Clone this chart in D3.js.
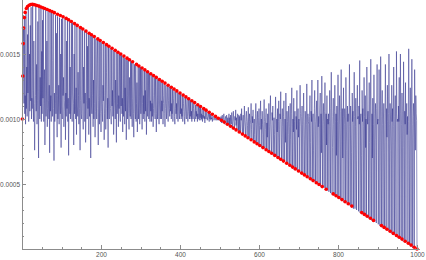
<!DOCTYPE html>
<html>
<head>
<meta charset="utf-8">
<script src="https://cdn.jsdelivr.net/npm/d3@7"></script>
<style>
  body { margin: 0; background: #fff; }
  .axis path, .axis line { stroke: #8c8c8c; shape-rendering: crispEdges; }
  .axis text { fill: #555; font-family: "Liberation Sans", sans-serif; font-size: 6.5px; }
</style>
</head>
<body>
<script>
// red points: position n and value
var redN = [1,2,3,4,6,8,11,14,18,22,26,30,34,38,43,48,53,58,64,70,76,82,90,97,104,112,118,
  125,133,140,148,154,162,170,176,183,192,198,206,214,220,228,236,243,250,258,266,272,280,290,
  296,304,311,318,326,333,340,348,355,362,370,378,385,392,400,408,415,422,430,437,445,452,460,
  466,474,482,490,497,505,512,520,528,535,542,550,558,565,572,580,588,595,602,610,618,625,632,
  640,648,655,662,670,678,685,692,700,708,715,722,730,737,745,752,760,770,788,795,802,810,818,
  826,835,860,867,874,882,890,910,917,924,932,940,948,955,962,970,978,985,993,1000];
var redValues = [0.00100,0.00133,0.00158,0.00170,0.00178,0.00182,0.00185,0.001865,0.001875,0.00188,
  0.001882,0.00188,0.001877,0.001873,0.001868,0.001862,0.001856,0.00185,0.001842,0.001834,0.001826,
  0.001818,0.001806,0.001796,0.001786,0.001774,0.001764,
  0.00175,0.001734,0.00172,0.001704,0.001692,0.001676,0.00166,0.001648,0.001634,0.001616,0.001604,
  0.001588,0.001572,0.00156,0.001544,0.001528,0.001514,0.0015,0.001484,0.001468,0.001456,0.00144,
  0.00142,0.001408,0.001392,0.001378,0.001364,0.001348,0.001334,0.00132,0.001304,0.00129,0.001276,
  0.00126,0.001244,0.00123,0.001216,0.0012,0.001184,0.00117,0.001156,0.00114,0.001126,0.00111,
  0.001096,0.00108,0.001068,0.001052,0.001036,0.00102,0.001006,0.00099,0.000976,0.00096,0.000944,
  0.00093,0.000916,0.0009,0.000884,0.00087,0.000856,0.00084,0.000824,0.00081,0.000796,0.00078,
  0.000764,0.00075,0.000736,0.00072,0.000704,0.00069,0.000676,0.00066,0.000644,0.00063,0.000616,
  0.0006,0.000584,0.00057,0.000556,0.00054,0.000526,0.00051,0.000496,0.00048,0.00046,0.000424,
  0.00041,0.000396,0.00038,0.000364,0.000348,0.00033,0.00028,0.000266,0.000252,0.000236,0.00022,
  0.00018,0.000166,0.000152,0.000136,0.00012,0.000104,0.00009,0.000076,0.00006,0.000044,0.00003,
  0.000014,0.0];

// blue series, one value per n = 1 ... 1000, in units of 1e-5
var blueUnit = 1e-5;
var blueValues = [
  100,133,158,170,112,178,104,118,96,182,108,140,102,165,120,186,98,110,150,106,172,114,186,100,116,
  108,188,122,98,160,112,76,104,118,187,106,142,96,114,175,102,70,187,120,100,132,110,186,98,152,
  104,176,116,185,98,112,138,80,110,184,102,120,160,94,108,184,114,100,126,74,183,106,118,98,182,
  116,102,145,181,108,68,120,98,112,180,104,166,118,86,179,100,110,126,96,178,114,104,150,78,177,
  110,100,179,118,132,94,106,114,178,84,120,102,160,108,177,98,116,72,112,177,104,140,100,118,175,
  106,98,174,120,112,80,150,104,173,116,100,124,88,172,110,102,136,118,96,171,108,76,114,170,104,
  100,118,169,106,92,140,112,168,98,120,82,104,167,114,100,156,108,166,88,116,102,165,120,70,165,
  110,104,164,118,94,130,100,163,112,86,106,162,120,100,146,161,108,80,114,161,96,118,160,104,90,
  106,159,112,98,126,114,158,84,104,118,157,92,108,136,156,100,116,78,156,110,100,120,155,108,102,
  96,154,110,122,102,153,88,106,114,152,100,130,108,82,151,104,112,151,94,118,108,150,102,98,150,
  110,149,104,116,90,148,102,112,147,96,124,106,146,84,110,146,100,118,145,104,92,132,108,102,145,
  100,144,110,94,116,143,104,86,120,142,106,100,141,98,112,128,90,104,141,100,114,140,96,108,140,
  104,139,110,92,112,138,100,118,104,137,98,122,106,137,88,110,136,102,112,136,100,106,135,98,114,
  106,134,98,112,102,133,94,108,118,132,104,100,131,110,90,104,131,100,114,130,102,96,110,130,100,
  110,129,100,114,106,128,96,112,118,127,104,94,108,126,112,100,120,126,104,98,114,125,108,102,125,
  106,124,100,112,104,123,98,110,116,122,102,96,108,121,104,112,100,121,106,98,110,120,104,100,120,
  104,119,100,108,102,118,98,106,112,117,102,96,106,116,104,100,110,116,102,98,106,115,104,100,115,
  102,114,100,106,98,113,104,100,108,112,102,98,104,111,100,106,102,111,98,104,100,110,102,99,110,
  101,109,99,104,100,108,98,103,101,107,100,102,97,106,101,100,103,106,99,101,102,105,100,98,105,
  100,104,99,101,100,103,98,101,102,102,99,100,101,101,100,99,101,100,99,101,100,100,99,100,100,
  99,101,98,102,97,100,103,99,97,101,104,98,96,100,102,99,96,103,100,97,101,95,99,104,95,
  101,94,103,99,96,105,100,93,98,106,100,97,92,102,99,107,95,101,92,98,104,100,91,103,90,
  102,96,89,104,99,108,94,89,100,103,88,97,110,99,94,87,102,106,98,87,95,101,109,86,98,
  104,85,96,100,112,92,84,102,97,107,83,94,100,88,82,104,112,96,81,99,106,90,80,101,108,
  95,79,102,114,92,100,78,106,96,88,77,103,115,98,77,92,101,108,76,97,86,104,75,100,112,
  94,74,102,118,96,84,73,105,99,110,72,93,101,88,72,104,117,96,71,100,90,108,70,98,114,
  92,69,104,100,121,86,68,98,108,94,67,102,114,90,67,100,82,120,96,66,106,98,65,88,110,
  100,64,94,112,84,63,104,124,96,62,100,90,116,61,98,106,80,61,102,92,122,60,96,108,86,
  100,59,98,126,104,94,58,102,110,96,57,104,120,98,57,84,106,100,56,96,127,102,55,104,98,
  96,54,102,118,82,53,106,98,130,52,100,104,76,52,108,122,98,51,96,104,114,50,100,130,94,
  102,49,96,110,120,48,104,74,133,100,47,98,112,96,47,106,128,100,46,104,80,118,45,100,96,
  104,44,98,122,94,43,108,136,100,42,78,102,116,96,41,106,126,98,41,104,72,110,40,98,134,
  100,39,96,118,84,38,106,138,100,37,108,70,102,124,36,96,108,100,36,132,104,76,35,110,98,
  104,34,98,142,94,33,110,100,74,32,120,98,106,31,96,136,102,31,94,116,68,30,108,126,100,
  102,29,110,96,145,28,100,104,72,27,122,98,108,26,94,132,102,26,118,78,100,25,140,104,96,
  106,24,98,128,82,23,110,146,100,22,104,70,116,21,96,134,104,21,84,112,100,20,108,142,96,
  100,19,98,138,110,18,80,148,102,17,106,122,96,16,100,112,74,16,104,142,96,15,108,86,126,
  98,14,104,150,96,13,112,100,76,12,126,98,108,11,94,140,102,11,96,118,70,10,152,104,98,
  100,9,110,98,132,8,84,150,104,7,96,120,106,6,78,144,100,6,106,96,128,5,102,112,88,
  102,4,98,154,106,3,80,124,100,2,110,146,96,1,86,112,102,1,138,98,76,118,104,99,0
];

var xTicks = [200, 400, 600, 800, 1000];
var xTickLabels = ["200", "400", "600", "800", "1000"];
var yTicks = [0.0005, 0.0010, 0.0015];
var yTickLabels = ["0.0005", "0.0010", "0.0015"];

var width = 426, height = 260;

var svg = d3.select("body").append("svg")
    .attr("width", width)
    .attr("height", height);

var x = d3.scaleLinear().domain([0, 1000]).range([22, 417]);
var y = d3.scaleLinear().domain([0, 0.001]).range([249, 119]);

// blue line
var blueData = blueValues.map(function(v, i) { return { n: i + 1, v: v * blueUnit }; });

svg.append("path")
    .datum(blueData)
    .attr("fill", "none")
    .attr("stroke", "#33338e")
    .attr("stroke-width", 0.6)
    .attr("stroke-opacity", 0.9)
    .attr("d", d3.line().x(function(d) { return x(d.n); }).y(function(d) { return y(d.v); }));

// red points
svg.append("g")
    .selectAll("circle")
    .data(redN)
    .enter().append("circle")
    .attr("cx", function(d) { return x(d); })
    .attr("cy", function(d, i) { return y(redValues[i]); })
    .attr("r", 1.8)
    .attr("fill", "#ff0000");

// x axis, ticks pointing up
svg.append("g").attr("class", "axis")
    .attr("transform", "translate(0," + y(0) + ")")
    .call(d3.axisBottom(x).tickValues(d3.range(50, 1001, 50)).tickSize(-2).tickFormat(""))
    .select(".domain").remove();
svg.append("g").attr("class", "axis")
    .attr("transform", "translate(0," + y(0) + ")")
    .call(d3.axisBottom(x).tickValues(xTicks).tickSizeInner(-4).tickSizeOuter(0).tickPadding(3)
        .tickFormat(function(d, i) { return xTickLabels[i]; }))
    .call(function(g) { g.select(".domain").attr("d", "M" + x(0) + ",0.5H" + (x(1000) + 3)); });

// y axis, ticks pointing right
svg.append("g").attr("class", "axis")
    .attr("transform", "translate(" + x(0) + ",0)")
    .call(d3.axisLeft(y).tickValues(d3.range(1, 19).map(function(k) { return k * 0.0001; })).tickSize(-2).tickFormat(""))
    .select(".domain").remove();
svg.append("g").attr("class", "axis")
    .attr("transform", "translate(" + x(0) + ",0)")
    .call(d3.axisLeft(y).tickValues(yTicks).tickSizeInner(-4).tickSizeOuter(0).tickPadding(2)
        .tickFormat(function(d, i) { return yTickLabels[i]; }))
    .call(function(g) { g.select(".domain").attr("d", "M0.5," + y(0) + "V0"); });
</script>
</body>
</html>
